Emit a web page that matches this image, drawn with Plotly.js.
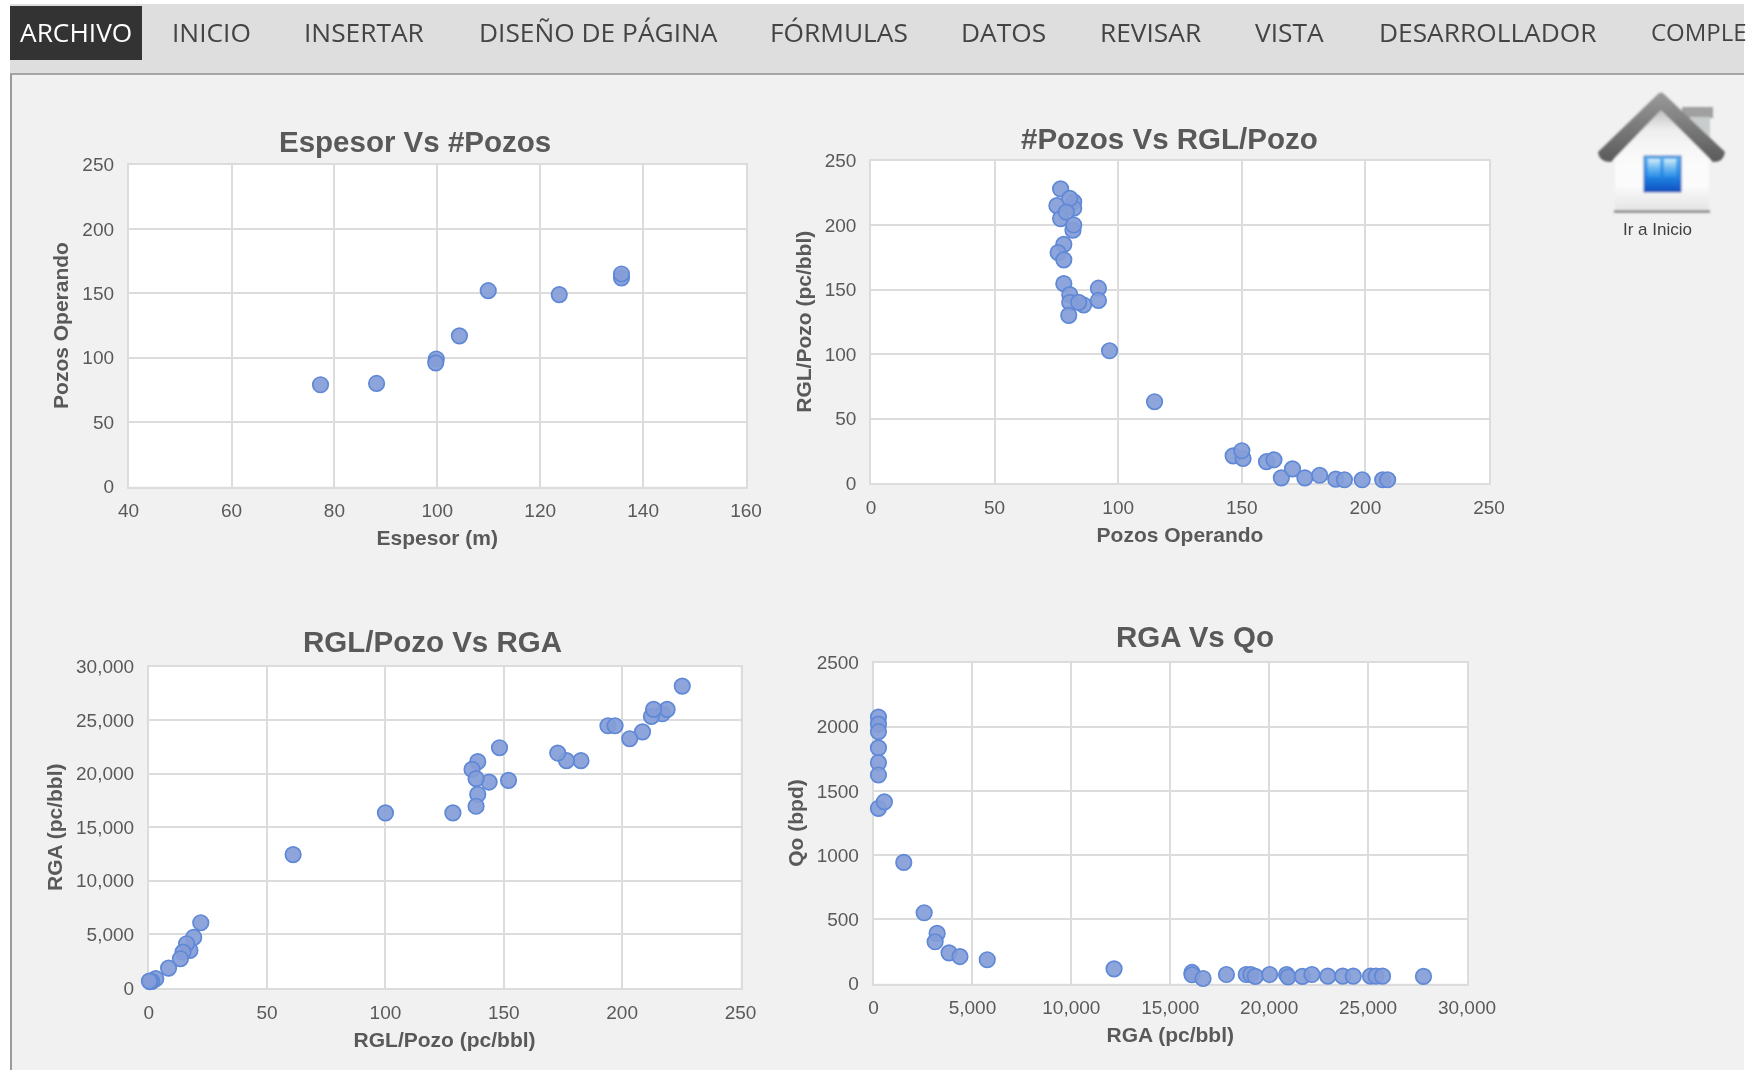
<!DOCTYPE html>
<html lang="es">
<head>
<meta charset="utf-8">
<title>Espesor, pozos, RGL y RGA</title>
<script src="https://cdn.plot.ly/plotly-3.0.1.min.js"></script>
<style>html,body{margin:0;padding:0;background:#fff;overflow:hidden}#chart{width:1753px;height:1070px;filter:blur(0.45px)}</style>
</head>
<body>
<div id="chart"></div>
<script>
// ---- Data ----
const espesorX = [77.3, 88.2, 99.8, 99.7, 104.3, 109.9, 123.7, 135.8, 135.8];
const pozosY = [79, 80, 99, 96, 117, 152, 149, 162, 165];

const pozosX = [76.7, 75.2, 76.7, 82, 82, 80.4, 79, 81.7, 82, 78, 75.7, 78, 78, 80.4, 80.4, 80, 86, 84, 92, 92, 96.5, 114.7, 146.5, 150.5, 150, 160, 163, 166, 170.5, 175.5, 181.5, 188, 191.5, 198.7, 207, 209];
const rglY = [228, 215, 205, 218, 213, 220.6, 210, 196, 200, 185, 178.6, 173, 154.5, 146, 140, 130, 138, 140, 151, 141.5, 102.5, 63, 21, 19, 25, 16.5, 18, 4, 11, 4, 6, 3, 2.5, 2.5, 2.5, 2.5];

const rglX = [225.4, 217, 219, 212.4, 213.3, 208.6, 203.2, 194, 197, 182.6, 176.5, 172.8, 152, 148.2, 143.8, 139, 136.6, 138.3, 139, 138.3, 128.5, 100, 61, 22, 17.4, 19, 16, 14.5, 13.4, 8.4, 3, 1.3, 0.5, 0.3];
const rgaY = [28170, 25590, 26000, 25340, 26000, 23900, 23260, 24470, 24470, 21210, 21210, 21925, 19380, 22420, 19220, 21120, 20400, 19530, 18070, 16960, 16335, 16335, 12450, 6090, 3510, 4720, 4130, 3350, 2730, 1860, 870, 620, 590, 650];

const rgaX = [250, 250, 250, 250, 250, 250, 250, 550, 1530, 2560, 3216, 3115, 3820, 4370, 5750, 12160, 16100, 16100, 16660, 17840, 18840, 19070, 19300, 20025, 20880, 20955, 21680, 22160, 22965, 23720, 24250, 25125, 25400, 25730, 27800];
const qoY = [2074, 2020, 1962, 1835, 1720, 1624, 1364, 1414, 943, 551, 390, 325, 239, 210, 185, 114, 86, 68, 39, 70, 70, 70, 55, 70, 70, 52, 55, 70, 57, 57, 57, 57, 57, 57, 55];

const ribbonLabels = ["ARCHIVO", "INICIO", "INSERTAR", "DISEÑO DE PÁGINA", "FÓRMULAS", "DATOS", "REVISAR", "VISTA", "DESARROLLADOR", "COMPLE"];
const chartTitles = ["Espesor Vs #Pozos", "#Pozos Vs RGL/Pozo", "RGL/Pozo Vs RGA", "RGA Vs Qo"];
const xTitles = ["Espesor (m)", "Pozos Operando", "RGL/Pozo (pc/bbl)", "RGA (pc/bbl)"];
const yTitles = ["Pozos Operando", "RGL/Pozo (pc/bbl)", "RGA (pc/bbl)", "Qo (bpd)"];
const xRanges = [[40, 160], [0, 250], [0, 250], [0, 30000]];
const yRanges = [[0, 250], [0, 250], [0, 30000], [0, 2500]];
const xSteps = [20, 50, 50, 5000];
const ySteps = [50, 50, 5000, 500];
const xFormats = ["d", "d", "d", ",d"];
const yFormats = ["d", "d", ",d", "d"];

// ---- Layout geometry (pixels) ----
const W = 1753, H = 1070;
const boxes = [
  {l: 128.6, r: 746, t: 164.5, b: 486.5},
  {l: 871, r: 1489, t: 160.5, b: 483},
  {l: 148.7, r: 740.5, t: 666.5, b: 988},
  {l: 873.5, r: 1467, t: 662.5, b: 983.5}
];
const titlePos = [[415, 141], [1169, 138], [432, 641], [1195, 636]];
const ribbonX = [76, 211, 364, 598, 838.5, 1003, 1150.5, 1289, 1488, 1649];
const px = x => x / W, py = y => 1 - y / H;
const TXT = "#595959", GRID = "#dcdcdc", FONT = '"Liberation Sans", Arial, sans-serif';

const series = [[espesorX, pozosY], [pozosX, rglY], [rglX, rgaY], [rgaX, qoY]];
const data = series.map((s, i) => ({
  type: "scatter", mode: "markers", x: s[0], y: s[1],
  xaxis: i ? "x" + (i + 1) : "x", yaxis: i ? "y" + (i + 1) : "y",
  marker: {size: 15.5, color: "rgba(132,157,216,0.92)", line: {color: "#5f88d6", width: 1.7}},
  cliponaxis: false, hoverinfo: "x+y"
}));

const layout = {
  width: W, height: H, autosize: false,
  margin: {l: 0, r: 0, t: 0, b: 0},
  paper_bgcolor: "#f1f1f1", plot_bgcolor: "#ffffff",
  showlegend: false, hovermode: "closest",
  font: {family: FONT, color: TXT},
  shapes: [], annotations: [], images: []
};

boxes.forEach((b, i) => {
  const n = i ? String(i + 1) : "";
  const base = {
    showgrid: true, gridcolor: GRID, gridwidth: 1.5, zeroline: false,
    showline: true, linecolor: GRID, linewidth: 1.5, mirror: true, ticks: "",
    layer: "below traces",
    tickfont: {family: FONT, size: 19, color: TXT}, tickmode: "linear",
    fixedrange: true
  };
  layout["xaxis" + n] = Object.assign({}, base, {
    domain: [px(b.l), px(b.r)], range: xRanges[i], tick0: xRanges[i][0], dtick: xSteps[i],
    tickformat: xFormats[i], anchor: "y" + n, ticklabelstandoff: 6,
    title: {text: xTitles[i], font: {family: FONT, size: 21, color: TXT, weight: "bold"}, standoff: 10.5}
  });
  layout["yaxis" + n] = Object.assign({}, base, {
    domain: [py(b.b), py(b.t)], range: yRanges[i], tick0: 0, dtick: ySteps[i],
    tickformat: yFormats[i], anchor: "x" + n, ticklabelstandoff: 9,
    title: {text: yTitles[i], font: {family: FONT, size: 21, color: TXT, weight: "bold"}, standoff: 7.5}
  });
  layout.annotations.push({
    xref: "paper", yref: "paper", x: px(titlePos[i][0]), y: py(titlePos[i][1]),
    text: "<b>" + chartTitles[i] + "</b>", showarrow: false, xanchor: "center", yanchor: "middle",
    font: {family: FONT, size: 29.5, color: TXT}
  });
});

// Ribbon and the white strips around the sheet
const rect = (x0, y0, x1, y1, fill) => ({
  type: "rect", xref: "paper", yref: "paper", x0: px(x0), x1: px(x1), y0: py(y0), y1: py(y1),
  fillcolor: fill, line: {width: 0}, layer: "below"
});
layout.shapes.push(
  rect(0, 0, W, 4, "#ffffff"),
  rect(0, 0, 10, H, "#ffffff"),
  rect(1744, 0, W, H, "#ffffff"),
  rect(10, 4, 1744, 74, "#dedede"),
  rect(10, 73, 1744, 75, "#a6a6a6"),
  rect(10, 74, 12, H, "#9a9a9a"),
  rect(10, 6, 142, 60, "#333333")
);
ribbonLabels.forEach((t, i) => {
  const last = i === ribbonLabels.length - 1;
  layout.annotations.push({
    xref: "paper", yref: "paper", x: px(ribbonX[i]), y: py(31.5), text: t, showarrow: false,
    xanchor: last ? "left" : "center", yanchor: "middle",
    font: {family: '"Open Sans", sans-serif', size: last ? 24 : 26.3, color: i === 0 ? "#ffffff" : "#444444"}
  });
});
layout.annotations.push({
  xref: "paper", yref: "paper", x: px(1657), y: py(229.5), text: "Ir a Inicio", showarrow: false,
  xanchor: "center", yanchor: "middle", font: {family: FONT, size: 17, color: "#404040"}
});

// Home icon
const homeSvg = `<svg xmlns="http://www.w3.org/2000/svg" viewBox="0 0 183 180" width="183" height="180">
<defs>
<linearGradient id="w" x1="0" y1="0" x2="0" y2="1"><stop offset="0" stop-color="#ffffff"/><stop offset="0.75" stop-color="#fbfbfb"/><stop offset="1" stop-color="#e4e4e4"/></linearGradient>
<linearGradient id="sh" x1="0" y1="0" x2="0" y2="1"><stop offset="0" stop-color="#7a7a7a"/><stop offset="0.3" stop-color="#d4d4d4" stop-opacity="0.7"/><stop offset="1" stop-color="#ffffff" stop-opacity="0"/></linearGradient>
<linearGradient id="r" x1="0" y1="0" x2="0" y2="1"><stop offset="0" stop-color="#9a9a9a"/><stop offset="1" stop-color="#5a5a5a"/></linearGradient>
<linearGradient id="b" x1="0" y1="0" x2="0" y2="1"><stop offset="0" stop-color="#5fb4ee"/><stop offset="0.55" stop-color="#2488e6"/><stop offset="1" stop-color="#0d50c0"/></linearGradient>
<linearGradient id="p" x1="0" y1="0" x2="0" y2="1"><stop offset="0" stop-color="#d4edfa"/><stop offset="1" stop-color="#58b0ee" stop-opacity="0.2"/></linearGradient>
<filter id="s"><feGaussianBlur stdDeviation="0.9"/></filter>
</defs>
<g filter="url(#s)">
<rect x="112" y="37" width="31" height="11" fill="#a0a0a0"/>
<rect x="120" y="47" width="20" height="30" fill="#c8cccc"/>
<path d="M45 84 L91 38 L139 84 L139 141 L45 141 Z" fill="url(#w)"/>
<path d="M45 84 L91 38 L139 84 L139 112 L45 112 Z" fill="url(#sh)" opacity="0.55"/>
<path d="M28 82 L88 24 Q91 21 94 24 L155 82 Q154 92 143 92 L91 40 L41 92 Q29 92 28 82 Z" fill="url(#r)"/>
<rect x="44" y="140.5" width="96" height="2" fill="#6a6a6a"/>
<rect x="74" y="86" width="37" height="36" fill="url(#b)" stroke="#1d4fa8" stroke-width="0.8"/>
<rect x="78" y="89" width="12" height="18" fill="url(#p)"/>
<rect x="94" y="89" width="12" height="18" fill="url(#p)"/>
</g></svg>`;
layout.images.push({
  source: "data:image/svg+xml;charset=utf-8," + encodeURIComponent(homeSvg),
  xref: "paper", yref: "paper", x: px(1570), y: py(70), sizex: 183 / W, sizey: 180 / H,
  xanchor: "left", yanchor: "top", sizing: "stretch", layer: "above"
});

Plotly.newPlot("chart", data, layout, {displayModeBar: false, responsive: false});
</script>
</body>
</html>
